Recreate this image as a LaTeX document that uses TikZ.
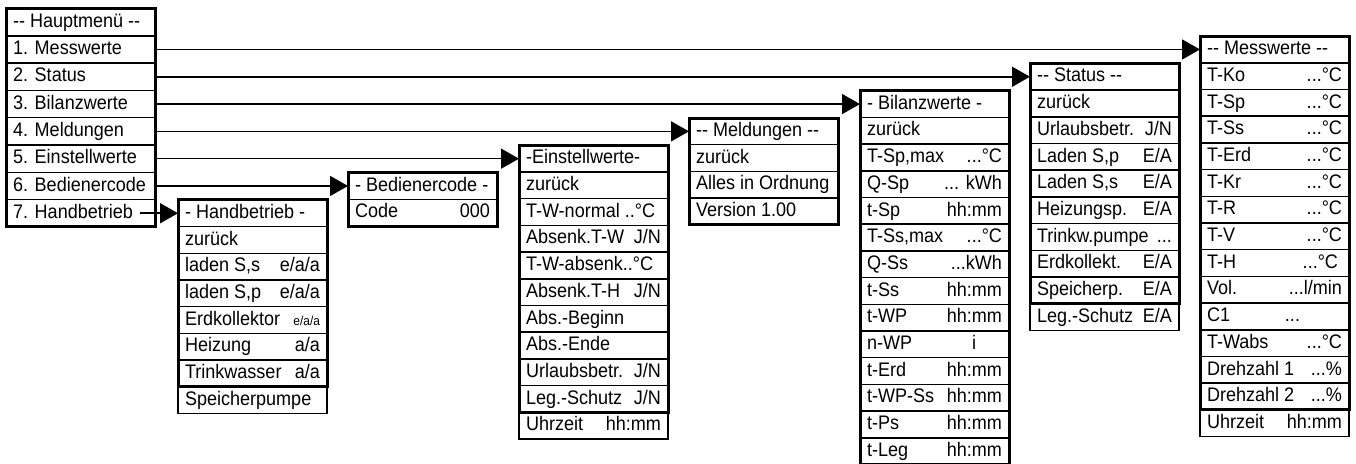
\documentclass[tikz,border=0pt]{standalone}
\usepackage{fontspec}
\setmainfont{Liberation Sans}[FakeStretch=0.92]
\usetikzlibrary{positioning,arrows.meta}
\newcommand\cell[2]{\hbox to 67.5pt{#1\hfill#2}}

\begin{document}
\begin{tikzpicture}[
  x=0.5pt, y=-0.5pt,
  menurow/.style={draw, rectangle, line width=0.75pt, outer sep=0pt,
    minimum width=74.5pt, minimum height=13.35pt, inner xsep=3.5pt, inner ysep=0pt,
    text height=7.1pt, text depth=1.9pt, font=\fontsize{9.8}{11}\selectfont},
  mainrow/.style={menurow, minimum height=13.65pt},
  frame/.style={line width=1.5pt},
  link/.style={line width=0.8pt, -{Triangle[length=9pt,width=10pt]}}
]
\useasboundingbox (0,0) rectangle (1356,463);

\coordinate (x-hb) at (178,0);
\coordinate (x-bc) at (348,0);
\coordinate (x-ew) at (519,0);
\coordinate (x-ml) at (689,0);
\coordinate (x-bw) at (860,0);
\coordinate (x-st) at (1030,0);
\coordinate (x-mw) at (1200,0);

\node[mainrow, anchor=north west] (hm-0) at (6,8.5) {\cell{-\kern0pt- Hauptmenü -\kern0pt-}{}};
\foreach \txl [count=\i, remember=\i as \j (initially 0)] in
  {1. Messwerte, 2. Status, 3. Bilanzwerte, 4. Meldungen, 5. Einstellwerte,
   6. Bedienercode, 7. Handbetrieb}
  \node[mainrow, below=0pt of hm-\j] (hm-\i) {\cell{\txl}{}};
\draw[frame] (hm-0.north west) rectangle (hm-7.south east);

\node[menurow, anchor=west] (hb-0) at (x-hb |- hm-7) {\cell{- Handbetrieb -}{}};
\foreach \txl/\txr [count=\i, remember=\i as \j (initially 0)] in
  {zurück/{}, {laden S,s}/{e/a/a}, {laden S,p}/{e/a/a},
   Erdkollektor/{\fontsize{6.5}{7}\selectfont e/a/a}, Heizung/{a/a},
   Trinkwasser/{a/a}, Speicherpumpe/{}}
  \node[menurow, below=0pt of hb-\j] (hb-\i) {\cell{\txl}{\txr}};
\draw[frame] (hb-0.north west) rectangle (hb-6.south east);

\node[menurow, anchor=west] (bc-0) at (x-bc |- hm-6) {\cell{- Bedienercode -}{}};
\node[menurow, below=0pt of bc-0] (bc-1) {\cell{Code}{000}};
\draw[frame] (bc-0.north west) rectangle (bc-1.south east);

\node[menurow, anchor=west] (ew-0) at (x-ew |- hm-5) {\cell{-Einstellwerte-}{}};
\foreach \txl/\txr [count=\i, remember=\i as \j (initially 0)] in
  {zurück/{}, {T-W-normal ..°C}/{}, {Absenk.T-W}/{J/N}, {T-W-absenk..°C}/{},
   {Absenk.T-H}/{J/N}, {Abs.-Beginn}/{}, {Abs.-Ende}/{},
   {Urlaubsbetr.}/{J/N}, {Leg.-Schutz}/{J/N}, Uhrzeit/{hh:mm}}
  \node[menurow, below=0pt of ew-\j] (ew-\i) {\cell{\txl}{\txr}};
\draw[frame] (ew-0.north west) rectangle (ew-9.south east);

\node[menurow, anchor=west] (ml-0) at (x-ml |- hm-4) {\cell{-\kern0pt- Meldungen -\kern0pt-}{}};
\foreach \txl [count=\i, remember=\i as \j (initially 0)] in
  {zurück, Alles in Ordnung, Version 1.00}
  \node[menurow, below=0pt of ml-\j] (ml-\i) {\cell{\txl}{}};
\draw[frame] (ml-0.north west) rectangle (ml-3.south east);

\node[menurow, anchor=west] (bw-0) at (x-bw |- hm-3) {\cell{- Bilanzwerte -}{}};
\foreach \txl/\txr [count=\i, remember=\i as \j (initially 0)] in
  {zurück/{}, {T-Sp,max}/{...°C}, {Q-Sp}/{... kWh}, {t-Sp}/{hh:mm},
   {T-Ss,max}/{...°C}, {Q-Ss}/{...kWh}, {t-Ss}/{hh:mm}, {t-WP}/{hh:mm},
   {n-WP}/{i\hspace*{13pt}}, {t-Erd}/{hh:mm}, {t-WP-Ss}/{hh:mm},
   {t-Ps}/{hh:mm}, {t-Leg}/{hh:mm}}
  \node[menurow, below=0pt of bw-\j] (bw-\i) {\cell{\txl}{\txr}};
\draw[frame] (bw-0.north west) rectangle (bw-13.south east);

\node[menurow, anchor=west] (st-0) at (x-st |- hm-2) {\cell{-\kern0pt- Status -\kern0pt-}{}};
\foreach \txl/\txr [count=\i, remember=\i as \j (initially 0)] in
  {zurück/{}, {Urlaubsbetr.}/{J/N}, {Laden S,p}/{E/A}, {Laden S,s}/{E/A},
   {Heizungsp.}/{E/A}, {Trinkw.pumpe}/{...}, {Erdkollekt.}/{E/A},
   {Speicherp.}/{E/A}, {Leg.-Schutz}/{E/A}}
  \node[menurow, below=0pt of st-\j] (st-\i) {\cell{\txl}{\txr}};
\draw[frame] (st-0.north west) rectangle (st-8.south east);

\node[menurow, anchor=west] (mw-0) at (x-mw |- hm-1) {\cell{-\kern0pt- Messwerte -\kern0pt-}{}};
\foreach \txl/\txr [count=\i, remember=\i as \j (initially 0)] in
  {{T-Ko}/{...°C}, {T-Sp}/{...°C}, {T-Ss}/{...°C}, {T-Erd}/{...°C},
   {T-Kr}/{...°C}, {T-R}/{...°C}, {T-V}/{...°C}, {T-H}/{...°C\hspace*{2pt}},
   {Vol.}/{...l/min}, {C1}/{...\hspace*{21pt}}, {T-Wabs}/{...°C},
   {Drehzahl 1}/{...\%}, {Drehzahl 2}/{...\%}, Uhrzeit/{hh:mm}}
  \node[menurow, below=0pt of mw-\j] (mw-\i) {\cell{\txl}{\txr}};
\draw[frame] (mw-0.north west) rectangle (mw-13.south east);

\draw[link] (hm-1.east) -- (mw-0.west);
\draw[link] (hm-2.east) -- (st-0.west);
\draw[link] (hm-3.east) -- (bw-0.west);
\draw[link] (hm-4.east) -- (ml-0.west);
\draw[link] (hm-5.east) -- (ew-0.west);
\draw[link] (hm-6.east) -- (bc-0.west);
\draw[link] ([xshift=-7.5pt]hm-7.east) -- (hb-0.west);
\end{tikzpicture}
\end{document}
